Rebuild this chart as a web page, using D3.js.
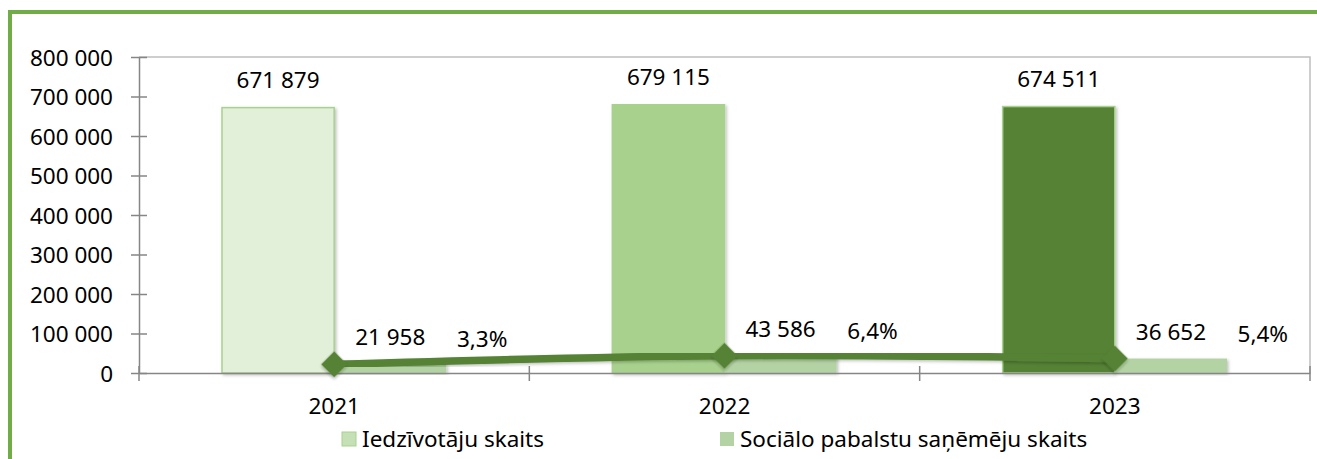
<!DOCTYPE html>
<html>
<head>
<script src="https://d3js.org/d3.v7.min.js"></script>
<style>
  body { margin: 0; background: #fff; }
  #chart { width: 1317px; height: 459px; }
  text { font-family: "Noto Sans", "Open Sans", sans-serif; fill: #000; }
</style>
</head>
<body>
<div id="chart"></div>
<script>
  // data
  var years = ["2021", "2022", "2023"];
  var population = [671879, 679115, 674511];
  var recipients = [21958, 43586, 36652];
  var shares = ["3,3%", "6,4%", "5,4%"];
  var yTicks = [0, 100000, 200000, 300000, 400000, 500000, 600000, 700000, 800000];
  var legendNames = ["Iedzīvotāju skaits", "Sociālo pabalstu saņēmēju skaits"];

  var popFill = ["#e2efd9", "#a9d18e", "#548235"];
  var popStroke = "#a9d18e";
  var recFill = "#b4d3a4";
  var lineColor = "#548235";
  var fontSize = "22.5px";

  var width = 1317, height = 459;
  var plot = {left: 139, right: 1310, top: 57, bottom: 373};

  var svg = d3.select("#chart").append("svg")
      .attr("width", width)
      .attr("height", height);

  var defs = svg.append("defs");
  var f = defs.append("filter").attr("id", "shadow")
      .attr("x", "-20%").attr("y", "-20%").attr("width", "140%").attr("height", "140%");
  f.append("feDropShadow").attr("dx", 1.5).attr("dy", 1.5)
      .attr("stdDeviation", 1.5).attr("flood-color", "#000").attr("flood-opacity", 0.25);

  // green frame (top + left)
  svg.append("rect").attr("x", 8).attr("y", 10).attr("width", width - 8).attr("height", 4)
      .attr("fill", "#70ad47");
  svg.append("rect").attr("x", 8).attr("y", 10).attr("width", 4).attr("height", height - 10)
      .attr("fill", "#70ad47");

  var x0 = d3.scaleBand().domain(years).range([plot.left, plot.right]).padding(0);
  var x1 = d3.scaleBand().domain(["pop", "rec"]).range([0, x0.bandwidth()])
      .paddingInner(0).paddingOuter(0.74);
  var y = d3.scaleLinear().domain([0, 800000]).range([plot.bottom, plot.top]);

  var fmt = function(v) { return d3.format(",")(v).replace(/,/g, " "); };

  // plot border (top + right)
  svg.append("path")
      .attr("d", "M" + plot.left + "," + plot.top + "H" + plot.right + "V" + plot.bottom)
      .attr("fill", "none").attr("stroke", "#bfbfbf").attr("stroke-width", 1.5);

  // y axis
  var yAxis = svg.append("g")
      .attr("transform", "translate(" + plot.left + ",0)")
      .call(d3.axisLeft(y).tickValues(yTicks).tickFormat(fmt).tickSizeInner(8).tickSizeOuter(0).tickPadding(18));
  yAxis.select(".domain").attr("stroke", "#868686").attr("stroke-width", 1.5);
  yAxis.selectAll(".tick line").attr("stroke", "#868686").attr("stroke-width", 1.5)
      .attr("x1", 8);
  yAxis.selectAll(".tick text").style("font-size", fontSize).attr("dy", "0.36em");

  // bars
  var g = svg.append("g");
  g.selectAll(".pop").data(years).enter().append("rect")
      .attr("class", "pop")
      .attr("x", function(d) { return x0(d) + x1("pop"); })
      .attr("y", function(d, i) { return y(population[i]); })
      .attr("width", x1.bandwidth())
      .attr("height", function(d, i) { return y(0) - y(population[i]); })
      .attr("fill", function(d, i) { return popFill[i]; })
      .attr("stroke", popStroke).attr("stroke-width", 1.5)
      .attr("filter", "url(#shadow)");

  g.selectAll(".rec").data(years).enter().append("rect")
      .attr("class", "rec")
      .attr("x", function(d) { return x0(d) + x1("rec"); })
      .attr("y", function(d, i) { return y(recipients[i]); })
      .attr("width", x1.bandwidth())
      .attr("height", function(d, i) { return y(0) - y(recipients[i]); })
      .attr("fill", recFill)
      .attr("filter", "url(#shadow)");

  // x axis
  var xAxis = svg.append("g")
      .attr("transform", "translate(0," + plot.bottom + ")")
      .call(d3.axisBottom(x0).tickSize(0).tickPadding(25));
  xAxis.select(".domain").attr("stroke", "#868686").attr("stroke-width", 1.5);
  xAxis.selectAll(".tick text").style("font-size", fontSize);
  var edges = years.map(function(d) { return x0(d); }).concat([x0(years[2]) + x0.bandwidth()]);
  xAxis.selectAll(".edge").data(edges).enter().append("line")
      .attr("class", "edge")
      .attr("x1", function(d) { return d; }).attr("x2", function(d) { return d; })
      .attr("y1", -7).attr("y2", 8)
      .attr("stroke", "#868686").attr("stroke-width", 1.5);

  // line with diamonds
  var cx = function(d) { return x0(d) + x0.bandwidth() / 2; };
  var line = d3.line()
      .x(function(d) { return cx(d); })
      .y(function(d, i) { return y(recipients[i]); })
      .curve(d3.curveCatmullRom);
  svg.append("path").datum(years)
      .attr("d", line)
      .attr("fill", "none").attr("stroke", lineColor).attr("stroke-width", 7.5)
      .attr("filter", "url(#shadow)");
  svg.selectAll(".mark").data(years).enter().append("path")
      .attr("class", "mark")
      .attr("d", d3.symbol().type(d3.symbolSquare).size(340))
      .attr("transform", function(d, i) { return "translate(" + cx(d) + "," + y(recipients[i]) + ") rotate(45)"; })
      .attr("fill", lineColor)
      .attr("filter", "url(#shadow)");

  // labels
  svg.selectAll(".popLabel").data(years).enter().append("text")
      .attr("x", function(d) { return x0(d) + x1("pop") + x1.bandwidth() / 2; })
      .attr("y", function(d, i) { return y(population[i]) - 20; })
      .attr("text-anchor", "middle").style("font-size", fontSize)
      .text(function(d, i) { return fmt(population[i]); });

  svg.selectAll(".recLabel").data(years).enter().append("text")
      .attr("x", function(d) { return x0(d) + x1("rec") + x1.bandwidth() / 2; })
      .attr("y", function(d, i) { return y(recipients[i]) - 19; })
      .attr("text-anchor", "middle").style("font-size", fontSize)
      .text(function(d, i) { return fmt(recipients[i]); });

  svg.selectAll(".shareLabel").data(years).enter().append("text")
      .attr("x", function(d) { return cx(d) + 148; })
      .attr("y", function(d, i) { return y(recipients[i]) - 17; })
      .attr("text-anchor", "middle").style("font-size", fontSize)
      .text(function(d, i) { return shares[i]; });

  // legend
  var legend = svg.append("g").attr("transform", "translate(342,439)");
  var items = legend.selectAll("g").data(legendNames).enter().append("g")
      .attr("transform", function(d, i) { return "translate(" + (i * 378) + ",0)"; });
  items.append("rect").attr("x", 0).attr("y", -7).attr("width", 14).attr("height", 14)
      .attr("fill", function(d, i) { return i === 0 ? "#c5e0b4" : recFill; })
      .attr("stroke", function(d, i) { return i === 0 ? "#a9d18e" : "none"; });
  items.append("text").attr("x", 20).attr("dy", "0.36em").style("font-size", fontSize)
      .text(function(d) { return d; });
</script>
</body>
</html>
